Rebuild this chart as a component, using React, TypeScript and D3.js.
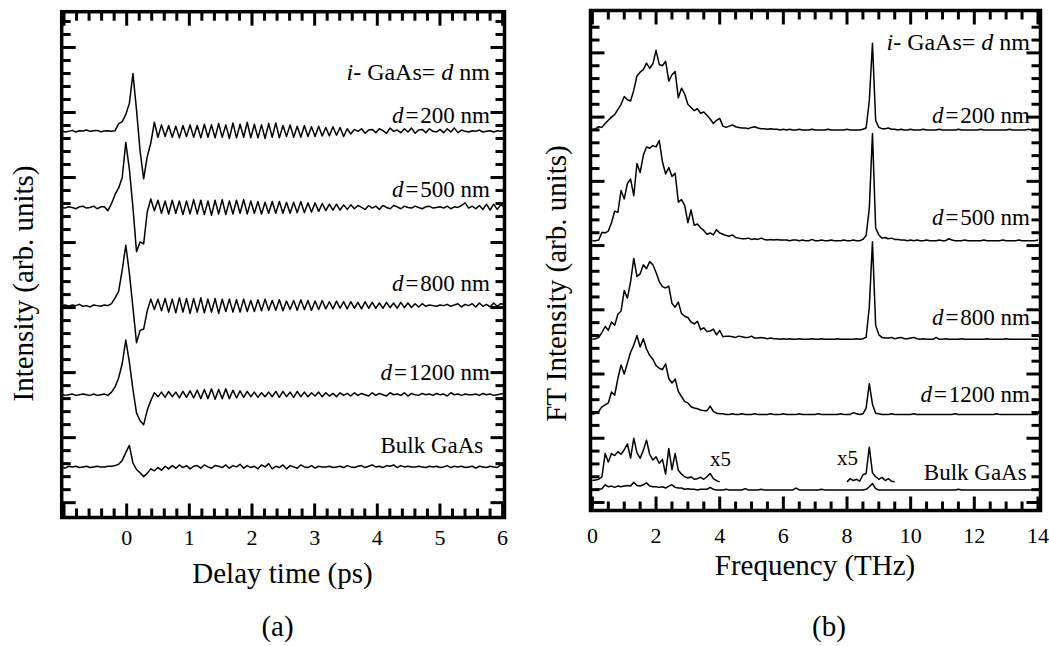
import React from 'react';
import * as d3 from 'd3';

// ---------- Panel (a): THz waveforms, sampled every delayStep ps from delayStart ----------
const delayStart = -1.04;
const delayStep = 0.057;
const delayTicksLabels = ['0', '1', '2', '3', '4', '5', '6'];

const thzD200 = [
  0.1, -0.1, 0.0, 0.15, -0.1, 0.1, 0.05, 0.2, 0.0, 0.1,
  0.15, -0.05, 0.05, 0.1, 0.0, 0.1, 1.2, 1.5, 2.6, 4.3,
  8.9, 3.3, -3.0, -7.3, -3.9, -1.8, 1.4, -0.9, 1.0, -0.8,
  0.9, -0.9, 0.8, -1.0, 0.9, -0.8, 1.0, -0.9, 0.9, -1.0,
  1.1, -0.9, 1.0, -1.0, 1.2, -0.9, 1.0, -1.1, 1.3, -1.0,
  1.1, -0.9, 1.4, -1.0, 1.1, -1.0, 1.0, -1.1, 1.2, -0.9,
  1.3, -1.0, 0.9, -0.8, 1.0, -0.9, 0.8, -0.9, 0.9, -0.8,
  0.7, -0.8, 0.8, -0.7, 0.6, -0.7, 0.7, -0.6, 0.6, -0.8,
  0.4, -0.4, 0.3, 0.0, 0.4, -0.3, 0.2, 0.3, -0.2, 0.4,
  0.1, -0.3, 0.5, 0.0, 0.2, -0.2, 0.4, -0.1, 0.5, -0.3,
  0.2, 0.3, -0.2, 0.4, 0.0, -0.1, 0.3, -0.2, 0.4, -0.1,
  0.5, -0.2, 0.2, 0.0, -0.1, 0.1, 0.0, 0.2, -0.1, 0.0,
  0.1, -0.1, 0.1, 0.0, 0.2,
];
const thzD500 = [
  0.0, -0.1, 0.1, 0.0, -0.2, 0.1, 0.2, -0.1, 0.0, 0.2,
  -0.2, 0.1, 0.1, -0.5, 0.6, 2.0, 3.0, 4.6, 10.0, 5.9,
  0.0, -6.8, -5.3, -5.6, -0.7, 1.3, -0.5, 1.1, -0.9, 1.0,
  -1.0, 1.1, -0.9, 1.0, -1.1, 1.0, -1.0, 1.2, -1.0, 1.1,
  -1.1, 1.0, -1.2, 1.1, -1.0, 1.2, -1.1, 1.0, -1.0, 1.1,
  -0.9, 1.2, -1.0, 1.0, -0.9, 0.9, -1.0, 0.8, -0.9, 0.9,
  -0.9, 0.9, -0.9, 0.8, -0.9, 0.8, -0.8, 0.9, -0.8, 0.7,
  -0.7, 0.7, -0.6, 0.6, -0.5, 0.5, -0.4, 0.5, -0.4, 0.4,
  -0.3, 0.4, -0.2, 0.3, 0.0, -0.3, 0.3, -0.1, 0.2, -0.3,
  0.3, 0.0, -0.2, 0.3, 0.1, -0.2, 0.2, 0.0, -0.1, 0.2,
  0.0, -0.2, 0.1, 0.2, -0.1, 0.0, 0.1, -0.1, 0.2, -0.2,
  0.1, 0.0, 0.3, 0.7, -0.1, 0.2, -0.2, 0.3, -0.3, 0.5,
  -0.4, 0.5, -0.3, 0.4, 0.1,
];
const thzD800 = [
  0.0, 0.1, -0.1, 0.1, 0.0, 0.2, -0.1, 0.0, -0.2, 0.1,
  0.0, -0.1, 0.1, 0.0, 0.3, 1.2, 2.2, 5.5, 9.3, 5.0,
  -0.3, -5.7, -3.8, -3.6, -0.8, 1.0, -0.6, 1.0, -0.8, 1.1,
  -1.0, 1.0, -1.1, 1.2, -1.0, 1.1, -1.2, 1.1, -1.0, 1.2,
  -1.1, 1.0, -1.0, 1.1, -1.2, 1.0, -0.9, 1.0, -1.0, 0.9,
  -1.0, 1.0, -0.9, 0.8, -0.9, 0.9, -0.8, 1.0, -0.7, 0.8,
  -0.7, 0.9, -0.8, 0.7, -0.6, 0.8, -0.7, 0.9, -0.6, 0.8,
  -0.7, 0.7, -0.6, 0.8, -0.5, 0.6, -0.5, 0.7, -0.4, 0.6,
  -0.5, 0.6, -0.4, 0.5, -0.5, 0.6, -0.4, 0.5, -0.4, 0.4,
  -0.4, 0.5, -0.3, 0.4, -0.4, 0.5, -0.3, 0.4, -0.3, 0.3,
  -0.2, 0.3, -0.1, 0.1, 0.0, -0.1, 0.1, 0.0, 0.2, -0.1,
  0.1, 0.3, -0.2, 0.2, 0.0, 0.3, -0.2, 0.4, -0.1, 0.2,
  -0.2, 0.4, -0.1, 0.3, 0.2,
];
const thzD1200 = [
  0.1, -0.1, 0.0, 0.1, -0.1, 0.0, 0.1, 0.0, -0.1, 0.1,
  -0.1, 0.0, 0.1, -0.1, 0.4, 1.2, 2.6, 4.8, 8.4, 5.0,
  0.8, -2.8, -4.0, -4.6, -2.4, -0.9, 0.3, -0.3, 0.4, -0.4,
  0.5, -0.3, 0.4, -0.5, 0.5, -0.4, 0.6, -0.5, 0.7, -0.6,
  0.8, -0.6, 0.9, -0.7, 0.8, -0.6, 0.9, -0.6, 0.7, -0.5,
  0.6, -0.4, 0.5, -0.3, 0.4, -0.4, 0.3, -0.3, 0.4, -0.3,
  0.5, -0.4, 0.5, -0.3, 0.4, -0.4, 0.5, -0.3, 0.4, -0.3,
  0.3, -0.2, 0.4, -0.3, 0.3, -0.2, 0.2, -0.3, 0.3, -0.1,
  0.2, -0.2, 0.3, -0.1, 0.2, 0.0, -0.2, 0.3, -0.1, 0.2,
  0.0, -0.2, 0.3, 0.0, 0.1, -0.1, 0.3, -0.2, 0.2, 0.0,
  -0.1, 0.2, 0.0, 0.1, -0.1, 0.2, 0.0, 0.1, -0.2, 0.3,
  0.0, 0.1, -0.1, 0.1, 0.0, 0.0, 0.1, -0.1, 0.2, 0.0,
  0.1, -0.1, 0.0, 0.1, 0.2,
];
const thzBulk = [
  0.0, -0.2, 0.1, 0.0, 0.1, -0.1, 0.0, 0.1, -0.1, 0.0,
  0.1, 0.0, 0.0, 0.1, 0.1, 0.2, 0.4, 1.0, 2.2, 3.3,
  0.6, -0.4, -0.9, -1.5, -1.0, -0.3, -0.6, -0.1, -0.5, 0.1,
  -0.3, 0.2, -0.2, 0.3, -0.1, 0.2, -0.3, 0.1, 0.2, -0.2,
  0.3, 0.0, -0.2, 0.2, 0.1, -0.1, 0.3, -0.2, 0.2, 0.0,
  0.4, -0.2, 0.2, -0.1, 0.1, -0.3, 0.3, 0.0, 0.5, -0.3,
  0.1, -0.1, 0.3, -0.3, 0.2, 0.0, -0.2, 0.3, 0.0, -0.1,
  0.2, -0.2, 0.1, 0.0, 0.0, 0.1, -0.1, 0.0, 0.1, -0.1,
  0.2, 0.0, -0.1, 0.1, 0.2, -0.1, 0.1, 0.3, 0.0, 0.1,
  -0.1, 0.2, 0.1, 0.3, -0.1, 0.2, 0.0, 0.1, 0.0, 0.0,
  0.1, 0.0, -0.1, 0.1, 0.0, 0.1, -0.1, 0.0, 0.2, -0.1,
  0.1, 0.0, 0.1, -0.1, 0.0, 0.1, -0.2, 0.1, 0.0, -0.1,
  0.1, 0.0, -0.1, 0.3, 0.1,
];
// vertical stacking offsets (arb. units)
const offsetsA = [57.1, 45.4, 30.3, 16.6, 5.5];

// ---------- Panel (b): FT spectra, sampled every freqStep THz from freqStart ----------
const freqStart = 0;
const freqStep = 0.1;
const freqTickLabels = ['0', '2', '4', '6', '8', '10', '12', '14'];

const ftD200 = [
  0.0, 0.2, 0.5, 0.4, 1.0, 1.5, 2.0, 2.4, 3.2, 4.0,
  5.2, 4.7, 4.5, 6.2, 8.4, 9.0, 9.4, 10.4, 9.6, 10.3,
  12.4, 10.2, 10.0, 10.7, 7.6, 8.6, 9.1, 5.0, 6.5, 5.6,
  4.0, 3.5, 3.0, 3.3, 2.6, 2.8, 2.3, 1.7, 1.0, 1.5,
  1.8, 0.6, 0.4, 0.6, 0.8, 0.5, 0.4, 0.3, 0.3, 0.2,
  0.4, 0.5, 0.3, 0.2, 0.2, 0.1, 0.2, 0.1, 0.1, 0.0,
  0.1, 0.0, 0.1, 0.0, 0.0, 0.1, 0.0, 0.0, 0.0, 0.1,
  0.0, 0.0, 0.0, 0.0, 0.1, 0.0, 0.0, 0.0, 0.0, 0.0,
  0.1, 0.0, 0.0, 0.0, 0.0, 0.1, 0.3, 4.5, 13.5, 1.5,
  0.4, 0.2, 0.2, 0.3, 0.1, 0.1, 0.0, 0.1, 0.0, 0.0,
  0.1, 0.0, 0.0, 0.0, 0.1, 0.0, 0.0, 0.0, 0.0, 0.1,
  0.0, 0.0, 0.0, 0.0, 0.0, 0.1, 0.0, 0.0, 0.0, 0.0,
  0.0, 0.0, 0.1, 0.0, 0.0, 0.0, 0.0, 0.0, 0.0, 0.0,
  0.0, 0.1, 0.0, 0.0, 0.0, 0.0, 0.0, 0.1, 0.0, 0.0,
  0.0,
];
const ftD500 = [
  0.0, 0.0, 0.1, 1.3, 1.2, 1.5, 2.8, 4.6, 4.4, 7.8,
  6.5, 8.9, 9.6, 7.0, 12.0, 10.6, 13.3, 14.6, 14.4, 14.8,
  14.6, 15.6, 12.3, 10.4, 11.4, 10.0, 10.5, 6.0, 6.4, 5.5,
  2.8, 4.8, 2.4, 2.6, 2.0, 1.6, 1.0, 1.2, 0.9, 1.7,
  1.2, 1.0, 0.8, 0.7, 0.9, 0.5, 0.4, 0.3, 0.3, 0.4,
  0.2, 0.3, 0.2, 0.4, 0.2, 0.1, 0.2, 0.1, 0.2, 0.1,
  0.1, 0.1, 0.0, 0.1, 0.1, 0.0, 0.1, 0.0, 0.0, 0.2,
  0.0, 0.0, 0.1, 0.0, 0.0, 0.1, 0.0, 0.0, 0.0, 0.1,
  0.0, 0.0, 0.1, 0.0, 0.0, 0.2, 0.8, 5.0, 16.7, 2.0,
  0.9, 0.4, 0.5, 0.3, 0.4, 0.2, 0.2, 0.1, 0.1, 0.0,
  0.1, 0.0, 0.1, 0.0, 0.0, 0.1, 0.0, 0.0, 0.0, 0.1,
  0.0, 0.0, 0.3, 0.1, 0.0, 0.0, 0.0, 0.1, 0.0, 0.0,
  0.0, 0.0, 0.0, 0.1, 0.0, 0.0, 0.0, 0.0, 0.0, 0.1,
  0.0, 0.0, 0.0, 0.0, 0.1, 0.0, 0.0, 0.0, 0.0, 0.0,
  0.1,
];
const ftD800 = [
  0.0, 0.1, 0.3, 1.1, 2.0, 1.4, 2.7, 2.2, 3.9, 4.4,
  7.6, 6.4, 9.0, 12.6, 9.8, 10.2, 11.6, 11.0, 12.1, 11.6,
  10.4, 9.0, 8.2, 8.0, 8.3, 5.6, 5.0, 5.8, 4.0, 3.6,
  3.4, 2.7, 2.4, 2.8, 1.5, 1.8, 1.2, 1.3, 1.6, 0.7,
  1.4, 0.4, 0.5, 0.5, 0.4, 0.3, 0.5, 0.4, 0.3, 0.3,
  0.5, 0.2, 0.2, 0.3, 0.2, 0.1, 0.2, 0.1, 0.1, 0.0,
  0.1, 0.0, 0.1, 0.0, 0.0, 0.1, 0.0, 0.0, 0.0, 0.1,
  0.0, 0.0, 0.1, 0.0, 0.0, 0.0, 0.0, 0.1, 0.0, 0.0,
  0.0, 0.0, 0.0, 0.1, 0.0, 0.1, 0.3, 5.0, 15.2, 2.2,
  0.7, 0.3, 0.2, 0.2, 0.3, 0.1, 0.2, 0.3, 0.1, 0.1,
  0.2, 0.3, 0.1, 0.0, 0.1, 0.0, 0.0, 0.0, 0.3, 0.0,
  0.0, 0.1, 0.0, 0.0, 0.0, 0.0, 0.1, 0.0, 0.0, 0.0,
  0.0, 0.0, 0.0, 0.0, 0.1, 0.0, 0.0, 0.0, 0.0, 0.0,
  0.1, 0.0, 0.0, 0.0, 0.0, 0.0, 0.0, 0.0, 0.0, 0.0,
  0.0,
];
const ftD1200 = [
  0.0, 0.2, 0.5, 1.2, 1.5, 1.8, 3.5, 3.0, 5.6, 7.7,
  6.3, 8.0, 9.7, 10.8, 12.3, 10.5, 11.8, 10.2, 9.2, 8.6,
  7.6, 7.2, 7.0, 7.9, 5.6, 4.9, 5.5, 3.6, 2.8, 2.0,
  1.8, 1.2, 1.0, 0.9, 0.7, 0.6, 0.6, 1.3, 0.5, 0.2,
  0.1, 0.1, 0.0, 0.0, 0.1, 0.0, 0.0, 0.1, 0.0, 0.0,
  0.0, 0.1, 0.0, 0.0, 0.0, 0.0, 0.1, 0.0, 0.0, 0.0,
  0.1, 0.0, 0.0, 0.0, 0.0, 0.1, 0.0, 0.0, 0.0, 0.0,
  0.0, 0.1, 0.0, 0.0, 0.0, 0.0, 0.0, 0.0, 0.1, 0.0,
  0.0, 0.0, 0.3, 0.1, 0.0, 0.1, 1.0, 4.8, 1.6, 0.2,
  0.1, 0.0, 0.0, 0.0, 0.1, 0.0, 0.0, 0.0, 0.0, 0.0,
  0.0, 0.1, 0.0, 0.0, 0.0, 0.0, 0.0, 0.0, 0.0, 0.0,
  0.0, 0.0, 0.0, 0.0, 0.1, 0.0, 0.0, 0.0, 0.0, 0.0,
  0.0, 0.0, 0.0, 0.0, 0.0, 0.0, 0.0, 0.1, 0.0, 0.0,
  0.0, 0.0, 0.0, 0.0, 0.0, 0.0, 0.0, 0.0, 0.0, 0.0,
  0.0,
];
const ftBulk = [
  0.0, 0.0, 0.1, 0.2, 0.8, 0.5, 0.6, 0.4, 0.6, 0.5,
  0.6, 0.7, 0.6, 1.2, 0.7, 0.6, 0.8, 1.1, 0.6, 0.5,
  0.5, 0.4, 0.5, 0.3, 0.6, 0.8, 0.4, 0.3, 0.3, 0.1,
  0.2, 0.1, 0.1, 0.0, 0.1, 0.1, 0.1, 0.4, 0.1, 0.0,
  0.0, 0.0, 0.1, 0.0, 0.0, 0.0, 0.0, 0.0, 0.2, 0.0,
  0.0, 0.0, 0.0, 0.1, 0.0, 0.0, 0.0, 0.0, 0.0, 0.0,
  0.0, 0.0, 0.0, 0.0, 0.3, 0.0, 0.0, 0.0, 0.0, 0.0,
  0.0, 0.0, 0.1, 0.0, 0.0, 0.0, 0.0, 0.0, 0.0, 0.0,
  0.0, 0.0, 0.0, 0.0, 0.0, 0.0, 0.1, 0.5, 1.0, 0.2,
  0.0, 0.0, 0.0, 0.0, 0.0, 0.0, 0.0, 0.0, 0.0, 0.0,
  0.0, 0.0, 0.0, 0.0, 0.0, 0.0, 0.0, 0.0, 0.0, 0.0,
  0.0, 0.0, 0.0, 0.0, 0.0, 0.1, 0.0, 0.0, 0.0, 0.0,
  0.0, 0.0, 0.0, 0.0, 0.0, 0.0, 0.0, 0.0, 0.0, 0.0,
  0.0, 0.0, 0.0, 0.0, 0.0, 0.0, 0.0, 0.0, 0.0, 0.0,
  0.0,
];
// Bulk GaAs magnified x5 segments
const x5LowStart = 0.0;
const ftBulkX5Low = [
  0.3, 0.4, 0.5, 0.9, 4.5, 3.2, 4.5, 4.2, 4.8, 4.4,
  5.1, 6.0, 3.8, 6.9, 4.6, 3.8, 5.0, 6.6, 4.4, 3.5,
  4.0, 3.0, 3.6, 1.3, 5.3, 2.0, 4.5, 1.9, 1.3, 0.9,
  0.7, 0.9, 0.5, 0.6, 0.8, 0.5, 0.9, 1.4, 0.6, 0.3,
  0.1,
];
const x5HighStart = 8.0;
const ftBulkX5High = [
  0.1, 0.6, 0.3, 0.5, 0.2, 1.2, 1.4, 5.5, 1.5, 0.9,
  0.5, 0.8, 0.3, 0.6, 0.2, 0.1,
];
const offsetsB = [58.0, 40.76, 25.4, 13.7, 1.95];
const offsetX5 = 3.11;

const sampleLabels = ['200', '500', '800', '1200'];

const FONT = "'Liberation Serif', 'Times New Roman', serif";

type Scale = d3.ScaleLinear<number, number>;

function tickMarks(
  x: Scale, y: Scale, xVals: number[], xMajor: (i: number) => boolean,
  yVals: number[], yMajor: (i: number) => boolean, keyPrefix: string,
) {
  const [x0, x1] = x.range();
  const [yb, yt] = y.range();
  const minor = 9, major = 14;
  const out: any[] = [];
  xVals.forEach((v, i) => {
    const px = x(v);
    const len = xMajor(i) ? major : minor;
    out.push(<line key={`${keyPrefix}xb${i}`} x1={px} x2={px} y1={yb} y2={yb - len} />);
    out.push(<line key={`${keyPrefix}xt${i}`} x1={px} x2={px} y1={yt} y2={yt + len} />);
  });
  yVals.forEach((v, i) => {
    const py = y(v);
    const len = yMajor(i) ? major : minor;
    out.push(<line key={`${keyPrefix}yl${i}`} x1={x0} x2={x0 + len} y1={py} y2={py} />);
    out.push(<line key={`${keyPrefix}yr${i}`} x1={x1} x2={x1 - len} y1={py} y2={py} />);
  });
  return out;
}

const textStyle = { fontFamily: FONT };

function DLabel({ x, y, value, size }: { x: number; y: number; value: string; size: number }) {
  return (
    <text x={x} y={y} textAnchor="end" fontSize={size} style={textStyle}>
      <tspan fontStyle="italic">d</tspan>
      <tspan dx={2}>=</tspan>
      <tspan dx={2}>{value} nm</tspan>
    </text>
  );
}

function HeadLabel({ x, y }: { x: number; y: number }) {
  return (
    <text x={x} y={y} textAnchor="end" fontSize={24} style={textStyle}>
      <tspan fontStyle="italic">i</tspan>
      <tspan>- GaAs= </tspan>
      <tspan fontStyle="italic">d</tspan>
      <tspan> nm</tspan>
    </text>
  );
}

export default function App() {
  // Panel (a) scales
  const xA = d3.scaleLinear().domain([-1.037, 6.03]).range([61.7, 504.5]);
  const yA = d3.scaleLinear().domain([-2.28, 75.5]).range([517.5, 11.7]);
  // Panel (b) scales
  const xB = d3.scaleLinear().domain([-0.06, 14.08]).range([590.5, 1040.5]);
  const yB = d3.scaleLinear().domain([-1.25, 76.6]).range([510.5, 10.5]);

  const tracesA = [thzD200, thzD500, thzD800, thzD1200, thzBulk];
  const pathsA = tracesA.map((vals, k) =>
    d3.line<number>()
      .x((_, i) => xA(delayStart + i * delayStep))
      .y((v) => yA(v + offsetsA[k]))(vals) || '');

  const tracesB = [ftD200, ftD500, ftD800, ftD1200, ftBulk];
  const pathsB = tracesB.map((vals, k) =>
    d3.line<number>()
      .x((_, i) => xB(freqStart + i * freqStep))
      .y((v) => yB(v + offsetsB[k]))(vals) || '');

  const x5Line = (start: number) => d3.line<number>()
    .x((_, i) => xB(start + i * freqStep))
    .y((v) => yB(v + offsetX5));
  const pathX5Low = x5Line(x5LowStart)(ftBulkX5Low) || '';
  const pathX5High = x5Line(x5HighStart)(ftBulkX5High) || '';

  const xTicksA = d3.range(-5, 31).map((k) => k * 0.2);
  const yTicksA = d3.range(0, 38).map((k) => k * 2);
  const xTicksB = d3.range(0, 29).map((k) => k * 0.5);
  const yTicksB = d3.range(0, 38).map((k) => k * 2);

  const [ax0, ax1] = xA.range();
  const [ayb, ayt] = yA.range();
  const [bx0, bx1] = xB.range();
  const [byb, byt] = yB.range();

  const labelYA = [122.7, 196.7, 291, 380];
  const labelYB = [123.3, 225, 325, 401.7];

  return (
    <svg
      width={1049}
      height={646}
      style={{ position: 'absolute', left: 0, top: 0, background: '#fff', fontFamily: FONT }}
    >
      <rect x={0} y={0} width={1049} height={646} fill="#fff" />
      {/* traces */}
      <g fill="none" stroke="#000" strokeWidth={1.5} strokeLinejoin="round">
        {pathsA.map((d, i) => <path key={`a${i}`} d={d} />)}
        {pathsB.map((d, i) => <path key={`b${i}`} d={d} />)}
        <path d={pathX5Low} />
        <path d={pathX5High} />
      </g>

      {/* frames and ticks */}
      <g stroke="#000" strokeWidth={3}>
        {tickMarks(xA, yA, xTicksA, (i) => (i + 5) % 5 === 0, yTicksA, (i) => i % 5 === 0, 'A')}
        {tickMarks(xB, yB, xTicksB, (i) => i % 4 === 0, yTicksB, (i) => i % 5 === 0, 'B')}
      </g>
      <rect x={ax0} y={ayt} width={ax1 - ax0} height={ayb - ayt} fill="none" stroke="#000" strokeWidth={3.5} />
      <rect x={bx0} y={byt} width={bx1 - bx0} height={byb - byt} fill="none" stroke="#000" strokeWidth={3.5} />

      {/* tick labels */}
      <g fontSize={22} textAnchor="middle" fill="#000" style={textStyle}>
        {delayTicksLabels.map((t) => (
          <text key={`ta${t}`} x={xA(+t)} y={545} style={textStyle}>{t}</text>
        ))}
        {freqTickLabels.map((t) => (
          <text key={`tb${t}`} x={xB(+t)} y={543.3} style={textStyle}>{t}</text>
        ))}
      </g>

      {/* axis titles */}
      <g fontSize={29} textAnchor="middle" fill="#000" style={textStyle}>
        <text x={282.5} y={582.7} style={textStyle}>Delay time (ps)</text>
        <text x={815} y={575} style={textStyle}>Frequency (THz)</text>
        <text transform="translate(33,283.5) rotate(-90)" style={textStyle}>Intensity (arb. units)</text>
        <text transform="translate(566,283.5) rotate(-90)" style={textStyle}>FT Intensity (arb. units)</text>
        <text x={277.5} y={636} style={textStyle}>(a)</text>
        <text x={829} y={636} style={textStyle}>(b)</text>
      </g>

      {/* in-plot labels (a) */}
      <g fill="#000">
        <HeadLabel x={490} y={80} />
        {sampleLabels.map((s, i) => (
          <DLabel key={`la${s}`} x={490} y={labelYA[i]} value={s} size={23} />
        ))}
        <text x={483.3} y={453.3} textAnchor="end" fontSize={23} style={textStyle}>Bulk GaAs</text>
      </g>

      {/* in-plot labels (b) */}
      <g fill="#000">
        <HeadLabel x={1030} y={50} />
        {sampleLabels.map((s, i) => (
          <DLabel key={`lb${s}`} x={1030} y={labelYB[i]} value={s} size={23} />
        ))}
        <text x={1026.7} y={480} textAnchor="end" fontSize={23} style={textStyle}>Bulk GaAs</text>
        <text x={710} y={465.5} fontSize={21} style={textStyle}>x5</text>
        <text x={837} y={465} fontSize={21} style={textStyle}>x5</text>
      </g>
    </svg>
  );
}
